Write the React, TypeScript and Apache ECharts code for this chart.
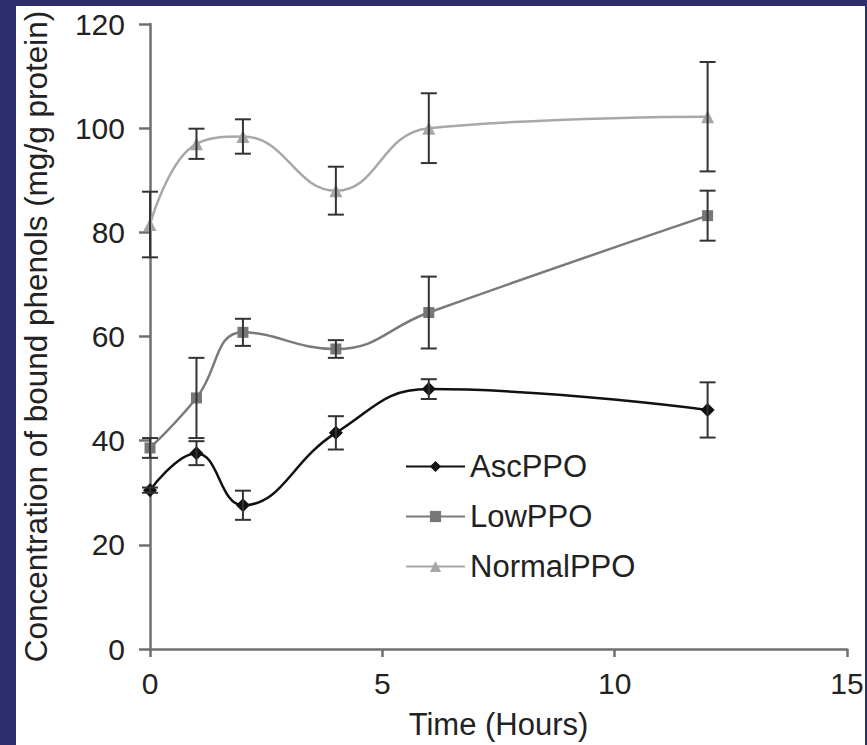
import React, { useEffect, useRef } from "react";
import * as echarts from "echarts";

const times = [0, 1, 2, 4, 6, 12];
const ascMean = [30.5, 37.6, 27.6, 41.5, 49.9, 45.9];
const ascErr = [0.5, 2.3, 2.8, 3.2, 1.9, 5.3];
const lowMean = [38.6, 48.2, 60.8, 57.6, 64.6, 83.2];
const lowErr = [1.9, 7.7, 2.6, 1.7, 6.9, 4.8];
const normalMean = [81.5, 97.0, 98.4, 88.0, 100.0, 102.2];
const normalErr = [6.3, 2.9, 3.3, 4.6, 6.7, 10.5];
const seriesNames = ["AscPPO", "LowPPO", "NormalPPO"];
const xTicks = [0, 5, 10, 15];
const yTicks = [0, 20, 40, 60, 80, 100, 120];

const FONT = "'Liberation Sans', Arial, Helvetica, sans-serif";

function pts(mean: number[]) {
  return times.map((t, i) => [t, mean[i]]);
}
function errs(mean: number[], err: number[]) {
  return times.map((t, i) => [t, mean[i] - err[i], mean[i] + err[i]]);
}

function errorSeries(name: string, mean: number[], err: number[]) {
  return {
    name: name + " error",
    type: "custom",
    z: 5,
    encode: { x: 0, y: [1, 2] },
    data: errs(mean, err),
    renderItem: (params: any, api: any) => {
      const x = api.value(0);
      const lo = api.value(1);
      const hi = api.value(2);
      const p1 = api.coord([x, hi]);
      const p2 = api.coord([x, lo]);
      const w = 8;
      const st = { stroke: "#333", lineWidth: 2 };
      return {
        type: "group",
        children: [
          { type: "line", shape: { x1: p1[0], y1: p1[1], x2: p2[0], y2: p2[1] }, style: st },
          { type: "line", shape: { x1: p1[0] - w, y1: p1[1], x2: p1[0] + w, y2: p1[1] }, style: st },
          { type: "line", shape: { x1: p2[0] - w, y1: p2[1], x2: p2[0] + w, y2: p2[1] }, style: st },
        ],
      };
    },
  };
}

export default function App() {
  const ref = useRef<HTMLDivElement>(null);
  useEffect(() => {
    if (!ref.current) return;
    const chart = echarts.init(ref.current, null, { renderer: "svg" });
    const axisLine = { lineStyle: { color: "#707070", width: 2.5 } };
    chart.setOption({
      animation: false,
      backgroundColor: "#2d2e6c",
      graphic: [
        {
          type: "rect",
          z: -10,
          shape: { x: 16, y: 6, width: 849, height: 739 },
          style: { fill: "#ffffff" },
        },
      ],
      grid: { left: 150, top: 24, right: 20, bottom: 96, outerBoundsMode: "none", containLabel: false },
      legend: {
        data: seriesNames,
        orient: "vertical",
        left: 400,
        top: 446,
        itemWidth: 59,
        itemHeight: 14,
        itemGap: 19,
        textStyle: { fontFamily: FONT, fontSize: 31, color: "#222" },
      },
      xAxis: {
        type: "value",
        min: xTicks[0],
        max: xTicks[xTicks.length - 1],
        interval: 5,
        name: "Time (Hours)",
        nameLocation: "middle",
        nameGap: 60,
        nameTextStyle: { fontFamily: FONT, fontSize: 31, color: "#222" },
        axisLine,
        axisTick: { show: true, length: 8, lineStyle: { color: "#707070", width: 2.5 } },
        axisLabel: { fontFamily: FONT, fontSize: 30, color: "#222", margin: 19 },
        splitLine: { show: false },
      },
      yAxis: {
        type: "value",
        min: yTicks[0],
        max: yTicks[yTicks.length - 1],
        interval: 20,
        name: "Concentration of bound phenols (mg/g protein)",
        nameLocation: "middle",
        nameGap: 98,
        nameTextStyle: { fontFamily: FONT, fontSize: 31.5, color: "#222" },
        axisLine: { show: true, ...axisLine },
        axisTick: { show: true, length: 11, lineStyle: { color: "#707070", width: 2.5 } },
        axisLabel: { fontFamily: FONT, fontSize: 30, color: "#222", margin: 25 },
        splitLine: { show: false },
      },
      series: [
        {
          name: seriesNames[0],
          type: "line",
          smooth: 0.45,
          data: pts(ascMean),
          symbol: "diamond",
          symbolSize: 14,
          z: 4,
          itemStyle: { color: "#111" },
          lineStyle: { color: "#111", width: 2.5 },
        },
        {
          name: seriesNames[1],
          type: "line",
          smooth: 0.45,
          data: pts(lowMean),
          symbol: "rect",
          symbolSize: 11,
          z: 3,
          itemStyle: { color: "#777" },
          lineStyle: { color: "#7a7a7a", width: 2.5 },
        },
        {
          name: seriesNames[2],
          type: "line",
          smooth: 0.45,
          data: pts(normalMean),
          symbol: "triangle",
          symbolSize: 13,
          z: 3,
          itemStyle: { color: "#a6a6a6" },
          lineStyle: { color: "#a8a8a8", width: 2.5 },
        },
        errorSeries(seriesNames[0], ascMean, ascErr),
        errorSeries(seriesNames[1], lowMean, lowErr),
        errorSeries(seriesNames[2], normalMean, normalErr),
      ],
    });
    return () => chart.dispose();
  }, []);
  return (
    <div
      ref={ref}
      style={{ position: "fixed", left: 0, top: 0, width: 867, height: 745 }}
    />
  );
}
